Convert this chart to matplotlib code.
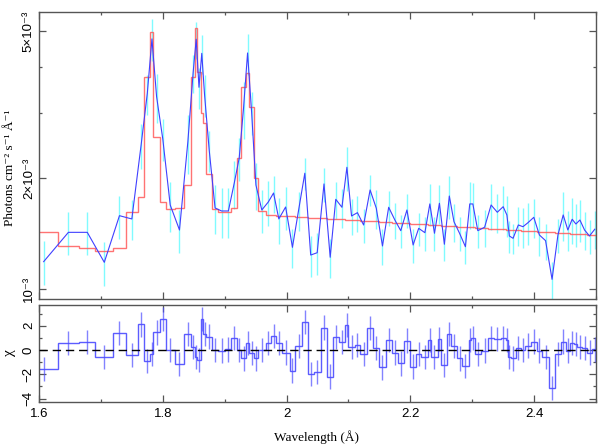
import numpy as np
import matplotlib
matplotlib.use('Agg')
import matplotlib.pyplot as plt
from matplotlib.ticker import FixedLocator, MultipleLocator, NullFormatter

# bin edges (Angstrom)
edges = [1.585, 1.630, 1.665, 1.691, 1.720, 1.740, 1.760, 1.770, 1.780, 1.785,
         1.795, 1.805, 1.819, 1.835, 1.846, 1.852, 1.856, 1.861, 1.865, 1.870,
         1.880, 1.889, 1.901, 1.911, 1.920, 1.927, 1.934, 1.940, 1.947, 1.954,
         1.966, 1.975, 1.983, 1.992, 2.005, 2.014, 2.025, 2.034, 2.044, 2.055,
         2.066, 2.075, 2.084, 2.095, 2.100, 2.110, 2.119, 2.130, 2.140, 2.150,
         2.160, 2.170, 2.180, 2.189, 2.200, 2.209, 2.218, 2.229, 2.234, 2.244,
         2.250, 2.260, 2.266, 2.275, 2.284, 2.294, 2.298, 2.304, 2.314, 2.326,
         2.335, 2.346, 2.354, 2.358, 2.362, 2.370, 2.379, 2.385, 2.395, 2.404,
         2.413, 2.424, 2.434, 2.443, 2.451, 2.458, 2.465, 2.470, 2.478, 2.485,
         2.494, 2.502]

# data, 1e-3 photons cm^-2 s^-1 A^-1
flux = [1.186, 1.424, 1.424, 1.181, 1.580, 1.548, 2.456, 3.39, 4.76, 3.32,
        2.55, 1.689, 1.445, 2.503, 3.85, 4.75, 3.52, 4.35, 3.36, 2.381,
        1.658, 1.627, 1.627, 1.937, 2.265, 3.094, 4.36, 3.02, 1.913, 1.637,
        1.721, 1.820, 1.548, 1.668, 1.297, 1.637, 2.059, 1.236, 1.254, 1.926,
        1.219, 1.750, 1.665, 2.137, 1.577, 1.610, 1.491, 1.855, 1.655, 1.308,
        1.665, 1.538, 1.439, 1.637, 1.316, 1.460, 1.421, 1.700, 1.416, 1.707,
        1.322, 1.786, 1.522, 1.416, 1.302, 1.700, 1.700, 1.439, 1.470, 1.689,
        1.614, 1.671, 1.587, 1.392, 1.372, 1.491, 1.475, 1.512, 1.564, 1.401,
        1.352, 1.062, 1.401, 1.587, 1.445, 1.545, 1.500, 1.538, 1.445, 1.392,
        1.452]

flux_err = [0.16, 0.19, 0.19, 0.16, 0.21, 0.19, 0.34, 0.42, 0.62, 0.50,
            0.33, 0.26, 0.19, 0.45, 0.45, 0.55, 0.44, 0.53, 0.43, 0.30,
            0.25, 0.25, 0.25, 0.29, 0.30, 0.55, 0.55, 0.40, 0.28, 0.22,
            0.24, 0.21, 0.22, 0.22, 0.16, 0.20, 0.21, 0.16, 0.16, 0.20,
            0.15, 0.20, 0.20, 0.29, 0.18, 0.18, 0.16, 0.18, 0.20, 0.15,
            0.18, 0.17, 0.15, 0.17, 0.14, 0.15, 0.15, 0.22, 0.15, 0.21,
            0.13, 0.24, 0.18, 0.15, 0.13, 0.25, 0.24, 0.15, 0.17, 0.24,
            0.20, 0.23, 0.20, 0.14, 0.13, 0.18, 0.18, 0.20, 0.19, 0.17,
            0.15, 0.12, 0.15, 0.24, 0.18, 0.22, 0.20, 0.20, 0.17, 0.15,
            0.17]

model = [1.430, 1.310, 1.289, 1.270, 1.292, 1.614, 1.772, 3.761, 4.962, 2.587,
         1.718, 1.647, 1.658, 1.913, 3.747, 5.088, 3.881, 2.995, 2.812, 2.050,
         1.647, 1.619, 1.619, 1.661, 2.260, 3.520, 3.840, 3.108, 1.995, 1.627,
         1.587, 1.582, 1.579, 1.575, 1.572, 1.568, 1.565, 1.561, 1.558, 1.554,
         1.550, 1.547, 1.543, 1.541, 1.538, 1.535, 1.531, 1.527, 1.524, 1.520,
         1.517, 1.513, 1.510, 1.506, 1.503, 1.500, 1.496, 1.493, 1.491, 1.488,
         1.485, 1.482, 1.480, 1.476, 1.473, 1.471, 1.469, 1.466, 1.462, 1.458,
         1.455, 1.451, 1.449, 1.448, 1.446, 1.443, 1.440, 1.437, 1.434, 1.431,
         1.427, 1.424, 1.420, 1.417, 1.415, 1.412, 1.410, 1.408, 1.405, 1.402,
         1.399]

chi = [-1.56, 0.55, 0.63, -0.60, 1.37, -0.41, 2.10, -0.88, -0.33, 1.45,
       2.53, 0.00, -1.15, 1.32, 0.27, -0.60, -0.82, 2.53, 1.29, 1.10,
       0.00, -0.05, 0.05, 0.96, 0.00, -0.69, 0.55, -0.27, -0.69, 0.00,
       0.55, 1.15, 0.55, -0.22, -1.70, 0.33, 2.30, -1.98, -1.81, 1.84,
       -2.19, 1.04, 0.63, 2.06, 0.22, 0.41, -0.33, 1.78, 0.19, -1.43,
       0.82, -0.22, -1.10, 0.77, -1.37, -0.33, -0.55, 0.82, -0.60, 0.88,
       -1.26, 1.29, 0.30, -0.69, -1.32, 0.82, 0.96, -0.33, -0.05, 0.96,
       0.88, 0.96, 0.80, -0.60, -0.69, 0.14, 0.00, 0.36, 0.69, -0.05,
       -0.60, -3.15, -0.33, 0.69, -0.05, 0.60, 0.50, 0.27, 0.14, -0.22,
       0.05]

edges = np.array(edges)
centers = 0.5 * (edges[:-1] + edges[1:])
flux = np.array(flux) * 1e-3
flux_err = np.array(flux_err) * 1e-3
model = np.array(model) * 1e-3
chi = np.array(chi)

sans = ['Liberation Sans', 'DejaVu Sans']
serif = ['Liberation Serif', 'DejaVu Serif']
plt.rcParams['font.family'] = sans

fig = plt.figure(figsize=(5.98, 4.45), dpi=100)
W, H = 598.0, 445.0
ax1 = fig.add_axes([39 / W, 1 - 299 / H, 557 / W, 287 / H])
ax2 = fig.add_axes([39 / W, 1 - 402 / H, 557 / W, 97 / H], sharex=ax1)

# spectrum panel
ax1.errorbar(centers, flux, yerr=flux_err, fmt='none', ecolor='#80fbff', elinewidth=1.0, zorder=1)
ax1.plot(centers, flux, color='#4040ff', lw=0.8, zorder=3)
ax1.stairs(model, edges, color='#ff5a5a', lw=1.0, alpha=0.85, zorder=2)
ax1.set_yscale('log')
ax1.set_ylim(0.9395e-3, 5.63e-3)
ax1.set_xlim(1.6, 2.5)
ax1.yaxis.set_major_locator(FixedLocator([1e-3, 2e-3, 5e-3]))
ax1.yaxis.set_minor_locator(FixedLocator([3e-3, 4e-3]))
ax1.yaxis.set_minor_formatter(NullFormatter())
ax1.set_yticklabels(['10⁻³', '2×10⁻³', '5×10⁻³'])
plt.setp(ax1.get_xticklabels(), visible=False)

# residual panel
ax2.stairs(chi, edges, color='#3f3fff', lw=1.0, alpha=0.85, zorder=2)
ax2.errorbar(centers, chi, yerr=np.ones_like(chi), fmt='none', ecolor='#4f4fff',
             elinewidth=1.0, alpha=0.7, zorder=2)
ax2.axhline(0, color='black', lw=1.0, dashes=(6, 3.5), zorder=4)
ax2.set_ylim(-4.28, 3.70)
ax2.yaxis.set_major_locator(FixedLocator([-4, -2, 0, 2]))
ax2.yaxis.set_minor_locator(FixedLocator([-3, -1, 1, 3]))
ax2.set_yticklabels(['−4', '−2', '0', '2'])

ax2.xaxis.set_major_locator(FixedLocator([1.6, 1.8, 2.0, 2.2, 2.4]))
ax2.xaxis.set_minor_locator(MultipleLocator(0.1))
ax2.set_xticklabels(['1.6', '1.8', '2', '2.2', '2.4'])

for ax in (ax1, ax2):
    for s in ax.spines.values():
        s.set_color('#555555')
        s.set_linewidth(1.0)
    ax.tick_params(which='both', direction='in', top=True, right=True,
                   colors='#555555', labelcolor='black', labelsize=9.5)
    ax.tick_params(which='major', length=5, width=0.9)
    ax.tick_params(which='minor', length=2.5, width=0.9)
    ax.tick_params(axis='y', labelrotation=90, pad=3)
    ax.tick_params(axis='x', pad=4)
    for lab in ax.get_yticklabels():
        lab.set_va('center')

fig.text(10 / W, 1 - 168 / H, 'Photons cm⁻² s⁻¹ Å⁻¹', family=serif, fontsize=9.5,
         rotation=90, ha='center', va='center')
fig.text(10 / W, 1 - 353 / H, 'χ', family=serif, fontsize=11,
         rotation=90, ha='center', va='center')
fig.text(317 / W, 1 - 437 / H, 'Wavelength (Å)', family=serif, fontsize=9.5,
         ha='center', va='center')

fig.savefig('out.png', dpi=100)
